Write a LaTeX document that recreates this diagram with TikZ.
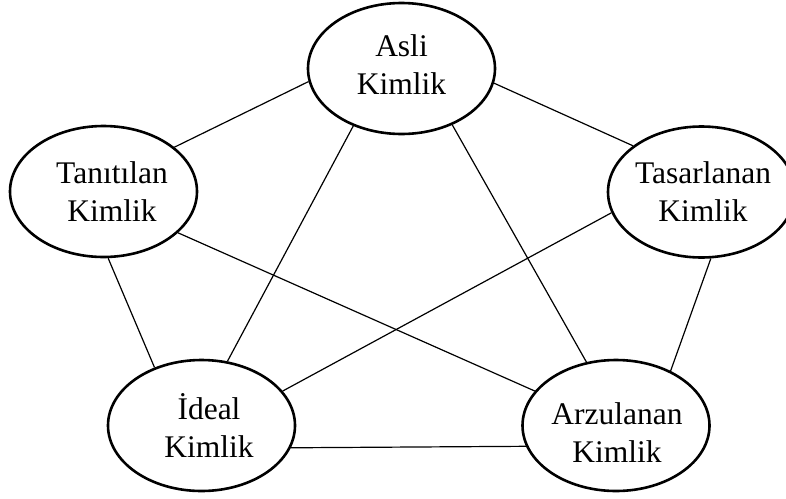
\documentclass[tikz,border=0pt]{standalone}
\usepackage{fontspec}
\setmainfont{Liberation Serif}
\usetikzlibrary{shapes.geometric}
\tikzset{
  kim/.style={ellipse, draw=black, line width=2.6pt, minimum width=187pt,
    minimum height=131pt, inner sep=0pt, align=center,
    font=\fontsize{31.5}{38}\selectfont},
  link/.style={draw=black, line width=1.2pt}
}
\newcommand{\zl}[3]{\makebox[0pt][c]{\hspace*{#1}\raisebox{#2}[\height][\depth]{#3}}}
\begin{document}
\begin{tikzpicture}[x=1pt,y=-1pt]
\useasboundingbox (0,0) rectangle (786,498);
\node[kim] (asli) at (401.5,68.5) {\zl{0pt}{4pt}{Asli}\\\zl{0pt}{4pt}{Kimlik}};
\node[kim] (tan) at (103.5,191.5) {\zl{17pt}{0pt}{Tanıtılan}\\\zl{17pt}{0pt}{Kimlik}};
\node[kim] (tas) at (701.5,192) {\zl{3pt}{0pt}{Tasarlanan}\\\zl{3pt}{0pt}{Kimlik}};
\node[kim] (ide) at (201.5,425.5) {\zl{15pt}{0pt}{İdeal}\\\zl{15pt}{0pt}{Kimlik}};
\node[kim] (arz) at (616,425.5) {\zl{2pt}{-7pt}{Arzulanan}\\\zl{2pt}{-7pt}{Kimlik}};
\draw[link] (asli.188.8) -- (tan.32.5);
\draw[link] (asli.351.2) -- (tas.146.7);
\draw[link] (asli.230.3) -- (ide.68.1);
\draw[link] (asli.312.4) -- (arz.115.7);
\draw[link] (tan.274.8) -- (ide.129.6);
\draw[link] (tan.331.8) -- (arz.157.5);
\draw[link] (tas.193.1) -- (ide.23.2);
\draw[link] (tas.278.2) -- (arz.45.8);
\draw[link] (ide.346.3) -- (arz.193.7);
\end{tikzpicture}
\end{document}
